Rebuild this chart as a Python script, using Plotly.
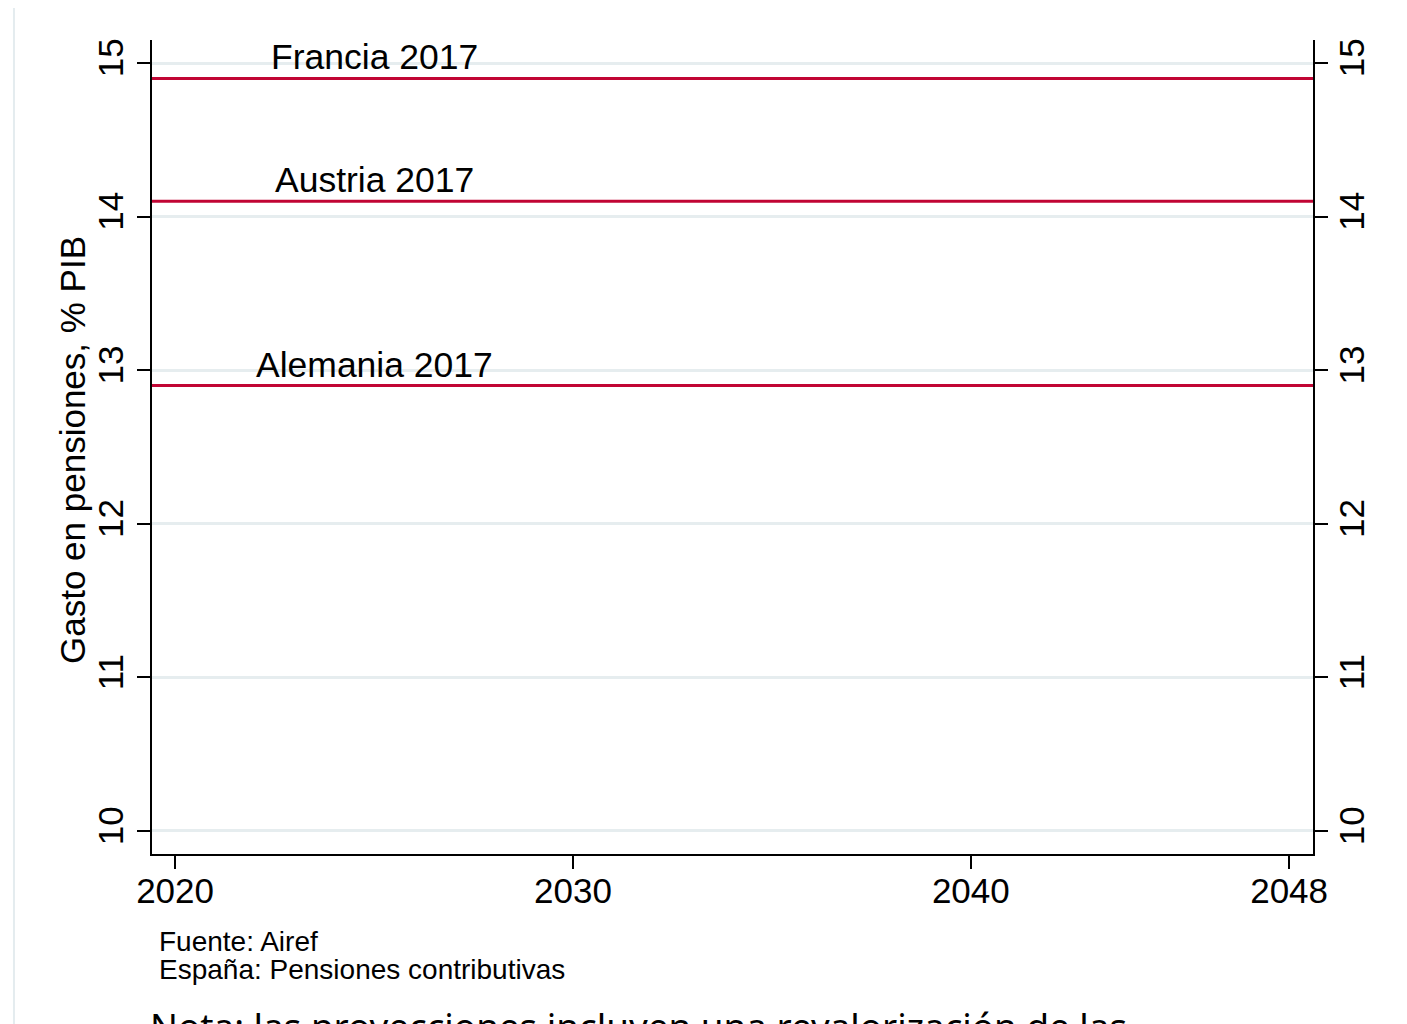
import plotly.graph_objects as go

# Datos
paises = ["Francia 2017", "Austria 2017", "Alemania 2017"]
gasto_pib = [14.9, 14.1, 12.9]
anio_etiqueta = 2025

x_ticks = [2020, 2030, 2040, 2048]
y_ticks = [10, 11, 12, 13, 14, 15]
x_rango = [2019.42, 2048.6]
y_rango = [9.85, 15.15]

fuente = ["Fuente: Airef", "España: Pensiones contributivas"]
nota = "Nota: las proyecciones incluyen una revalorización de las"

ROJO = "#c10534"
GRIS = "#e6edef"
FONT = "Liberation Sans, Arial, Helvetica, sans-serif"

fig = go.Figure()

# trazas invisibles para que existan ambos ejes
fig.add_trace(go.Scatter(x=x_rango, y=y_rango, mode="markers",
                         marker=dict(opacity=0), hoverinfo="skip", showlegend=False))
fig.add_trace(go.Scatter(x=x_rango, y=y_rango, mode="markers", yaxis="y2",
                         marker=dict(opacity=0), hoverinfo="skip", showlegend=False))

# Lineas de referencia
for pais, valor in zip(paises, gasto_pib):
    fig.add_hline(y=valor, line=dict(color=ROJO, width=3), layer="above")
    fig.add_annotation(x=anio_etiqueta, y=valor, text=pais, showarrow=False,
                       xanchor="center", yanchor="bottom", yshift=-1,
                       font=dict(size=35.5, color="black", family=FONT))

# Titulo eje Y
fig.add_annotation(xref="paper", yref="paper", x=-0.0689, y=0.4963,
                   text="Gasto en pensiones, % PIB", textangle=-90, showarrow=False,
                   xanchor="center", yanchor="middle",
                   font=dict(size=35, color="black", family=FONT))

# Fuente
for i, linea in enumerate(fuente):
    fig.add_annotation(xref="paper", yref="paper", x=0.0043, y=-0.1069 - i * 0.0356,
                       text=linea, showarrow=False, xanchor="left", yanchor="middle",
                       font=dict(size=28, color="black", family=FONT))

# Nota (cortada abajo)
fig.add_annotation(xref="paper", yref="paper", x=-0.0034, y=-0.178,
                   text=nota, showarrow=False, xanchor="left", yanchor="top",
                   font=dict(size=36.8, color="black", family="Noto Sans, sans-serif"))

# Marco de la pagina
fig.add_shape(type="line", xref="paper", yref="paper", x0=-0.1189, x1=1.09,
              y0=1.0406, y1=1.0406, line=dict(color="#e4ecef", width=2))
fig.add_shape(type="line", xref="paper", yref="paper", x0=-0.1189, x1=-0.1189,
              y0=1.0406, y1=-0.22, line=dict(color="#e4ecef", width=2))

eje_y = dict(range=y_rango, tickvals=y_ticks, ticks="outside", ticklen=13,
             tickwidth=1.5, tickcolor="black", tickangle=-90, showline=True,
             linecolor="black", linewidth=1.5, zeroline=False,
             tickfont=dict(size=35, color="black", family=FONT))

fig.update_layout(
    width=1407, height=1024,
    margin=dict(l=144, r=102, t=32, b=178),
    paper_bgcolor="white", plot_bgcolor="white",
    showlegend=False,
    xaxis=dict(range=x_rango, tickvals=x_ticks, ticks="outside", ticklen=13,
               tickwidth=1.5, tickcolor="black", showline=True, linecolor="black",
               linewidth=1.5, showgrid=False, zeroline=False, ticklabelstandoff=-8,
               tickfont=dict(size=35, color="black", family=FONT)),
    yaxis=dict(eje_y, showgrid=True, gridcolor=GRIS, gridwidth=3, side="left"),
    yaxis2=dict(eje_y, overlaying="y", side="right", showgrid=False, matches="y",
                ticklabelstandoff=-6),
)

fig.write_html("out.html")
